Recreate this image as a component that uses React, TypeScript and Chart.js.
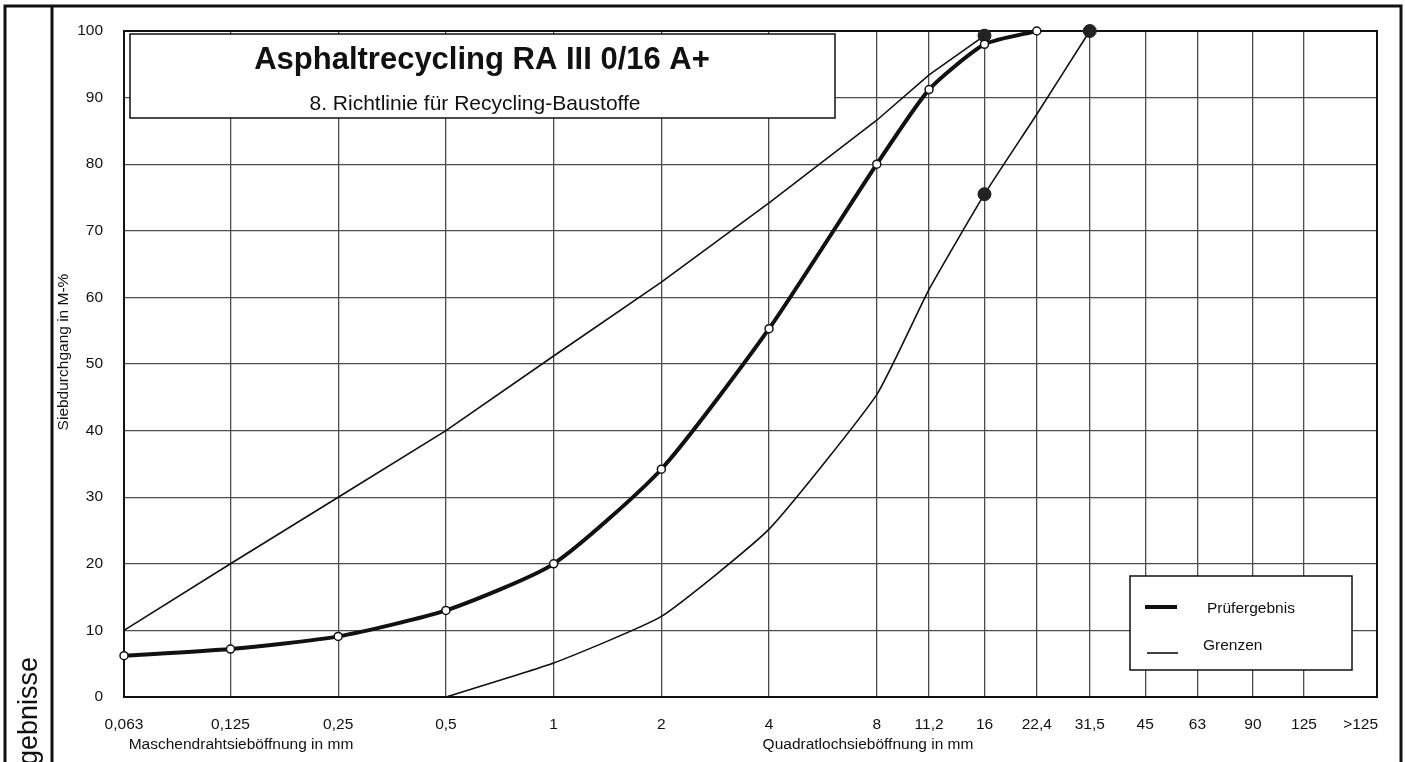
import React, { useEffect, useRef } from "react";
import { Chart, registerables } from "chart.js";

Chart.register(...registerables);

// ---------- data ----------
const sieveSizes = [0.063, 0.125, 0.25, 0.5, 1, 2, 4, 8, 11.2, 16, 22.4, 31.5, 45, 63, 90, 125];
const sieveLabels = ["0,063", "0,125", "0,25", "0,5", "1", "2", "4", "8", "11,2", "16", "22,4", "31,5", "45", "63", "90", "125"];
const overflowLabel = ">125";
const overflowPos = 180;
const xMin = 0.063;
const xMax = 200;

const resultSizes = [0.063, 0.125, 0.25, 0.5, 1, 2, 4, 8, 11.2, 16, 22.4];
const resultValues = [6.2, 7.2, 9.1, 13, 20, 34.2, 55.3, 80, 91.2, 98, 100];

const upperSizes = [0.063, 0.125, 0.25, 0.5, 1, 2, 4, 8, 11.2, 16];
const upperValues = [10, 20, 30, 40, 51.2, 62.3, 74.2, 86.6, 93.4, 99.3];

const lowerSizes = [0.5, 1, 2, 4, 8, 11.2, 16, 22.4, 31.5];
const lowerValues = [0, 5.1, 12.1, 25.2, 45.4, 61.2, 75.5, 87.5, 100];

const limitPointSizes = [16, 16, 31.5];
const limitPointValues = [99.3, 75.5, 100];

const yMin = 0;
const yMax = 100;
const yStep = 10;

const titleText = "Asphaltrecycling RA III 0/16 A+";
const subtitleText = "8. Richtlinie für Recycling-Baustoffe";
const yTitle = "Siebdurchgang in M-%";
const xTitleLeft = "Maschendrahtsieböffnung in mm";
const xTitleRight = "Quadratlochsieböffnung in mm";
const legendResult = "Prüfergebnis";
const legendLimits = "Grenzen";
const sideLabel = "Prüfergebnisse";

// ---------- style ----------
const FONT = '"Liberation Sans", Arial, Helvetica, sans-serif';
const INK = "#111111";
const GRID = "#4d4d4d";

const zip = (xs: number[], ys: number[]) => xs.map((x, i) => ({ x, y: ys[i] }));

const decorPlugin = {
  id: "decor",
  beforeDraw(chart: any) {
    const c = chart.ctx;
    c.save();
    c.fillStyle = "#ffffff";
    c.fillRect(0, 0, chart.width, chart.height);
    c.restore();
  },
  beforeDatasetsDraw(chart: any) {
    const c = chart.ctx;
    const a = chart.chartArea;
    c.save();
    c.strokeStyle = INK;
    c.lineWidth = 2;
    c.strokeRect(a.left, a.top, a.right - a.left, a.bottom - a.top);
    c.restore();
  },
  afterDatasetsDraw(chart: any) {
    const c = chart.ctx;
    c.save();
    // title box
    c.fillStyle = "#ffffff";
    c.fillRect(130, 34, 705, 84);
    c.strokeStyle = INK;
    c.lineWidth = 1.5;
    c.strokeRect(130, 34, 705, 84);
    c.fillStyle = INK;
    c.textAlign = "center";
    c.textBaseline = "middle";
    c.font = `bold 31px ${FONT}`;
    c.fillText(titleText, 482, 60);
    c.font = `21px ${FONT}`;
    c.fillText(subtitleText, 475, 104);

    // legend box
    c.fillStyle = "#ffffff";
    c.fillRect(1130, 576, 222, 94);
    c.strokeStyle = INK;
    c.lineWidth = 1.5;
    c.strokeRect(1130, 576, 222, 94);
    c.beginPath();
    c.lineWidth = 4;
    c.moveTo(1145, 607);
    c.lineTo(1177, 607);
    c.stroke();
    c.beginPath();
    c.lineWidth = 1.6;
    c.moveTo(1147, 653);
    c.lineTo(1178, 653);
    c.stroke();
    c.fillStyle = INK;
    c.textAlign = "left";
    c.textBaseline = "middle";
    c.font = `15.5px ${FONT}`;
    c.fillText(legendResult, 1207, 609);
    c.fillText(legendLimits, 1203, 646);
    c.restore();
  },
  afterDraw(chart: any) {
    const c = chart.ctx;
    c.save();
    // outer frame
    c.strokeStyle = INK;
    c.lineWidth = 3;
    c.beginPath();
    c.moveTo(5, 762);
    c.lineTo(5, 6);
    c.lineTo(1401, 6);
    c.lineTo(1401, 762);
    c.moveTo(52, 6);
    c.lineTo(52, 762);
    c.stroke();

    c.fillStyle = INK;
    // x axis titles
    c.font = `15.5px ${FONT}`;
    c.textAlign = "center";
    c.textBaseline = "middle";
    c.fillText(xTitleLeft, 241, 745);
    c.fillText(xTitleRight, 868, 745);

    // y axis title
    c.save();
    c.translate(64, 352);
    c.rotate(-Math.PI / 2);
    c.fillText(yTitle, 0, 0);
    c.restore();

    // side label (cut off at page bottom)
    c.save();
    c.translate(37, 657);
    c.rotate(-Math.PI / 2);
    c.font = `27px ${FONT}`;
    c.textAlign = "right";
    c.textBaseline = "alphabetic";
    c.fillText(sideLabel, 0, 0);
    c.restore();
    c.restore();
  },
};

export default function App() {
  const ref = useRef<HTMLCanvasElement | null>(null);

  useEffect(() => {
    const canvas = ref.current;
    if (!canvas) return;
    const chart = new Chart(canvas, {
      type: "line",
      data: {
        datasets: [
          {
            label: legendResult,
            data: zip(resultSizes, resultValues),
            borderColor: INK,
            borderWidth: 4,
            pointRadius: 4,
            pointBackgroundColor: "#ffffff",
            pointBorderColor: INK,
            pointBorderWidth: 1.5,
            tension: 0.2,
            clip: false,
          } as any,
          {
            label: "Grenzpunkte",
            data: zip(limitPointSizes, limitPointValues),
            showLine: false,
            pointRadius: 6.5,
            pointBackgroundColor: "#222222",
            pointBorderColor: "#222222",
            pointBorderWidth: 1,
            clip: false,
          } as any,
          {
            label: legendLimits + " oben",
            data: zip(upperSizes, upperValues),
            borderColor: INK,
            borderWidth: 1.6,
            pointRadius: 0,
            tension: 0,
            clip: false,
          } as any,
          {
            label: legendLimits + " unten",
            data: zip(lowerSizes, lowerValues),
            borderColor: INK,
            borderWidth: 1.6,
            pointRadius: 0,
            tension: 0.15,
            clip: false,
          } as any,
        ],
      },
      options: {
        responsive: false,
        animation: false,
        devicePixelRatio: 1,
        layout: { padding: { top: 31, right: 28, left: 0, bottom: 0 } },
        plugins: {
          legend: { display: false },
          tooltip: { enabled: false },
          title: { display: false },
        },
        scales: {
          x: {
            type: "logarithmic",
            min: xMin,
            max: xMax,
            afterBuildTicks: (s: any) => {
              s.ticks = [...sieveSizes, overflowPos].map((v) => ({ value: v }));
            },
            afterFit: (s: any) => {
              s.height = 65;
            },
            ticks: {
              autoSkip: false,
              maxRotation: 0,
              minRotation: 0,
              padding: 18,
              color: INK,
              font: { family: FONT, size: 15.5 },
              callback: (_v: any, i: number) => (i < sieveLabels.length ? sieveLabels[i] : overflowLabel),
            },
            grid: {
              color: (ctx: any) => (ctx.tick && ctx.tick.value === overflowPos ? "rgba(0,0,0,0)" : GRID),
              lineWidth: 1.3,
              drawTicks: false,
            },
            border: { display: false },
          } as any,
          y: {
            min: yMin,
            max: yMax,
            afterFit: (s: any) => {
              s.width = 124;
            },
            ticks: {
              stepSize: yStep,
              padding: 21,
              color: INK,
              font: { family: FONT, size: 15.5 },
            },
            grid: { color: GRID, lineWidth: 1.3, drawTicks: false },
            border: { display: false },
          } as any,
        },
      },
      plugins: [decorPlugin],
    });
    return () => chart.destroy();
  }, []);

  return (
    <div style={{ position: "fixed", left: 0, top: 0, width: 1405, height: 762, background: "#fff" }}>
      <canvas ref={ref} width={1405} height={762} style={{ display: "block", width: 1405, height: 762 }} />
    </div>
  );
}
